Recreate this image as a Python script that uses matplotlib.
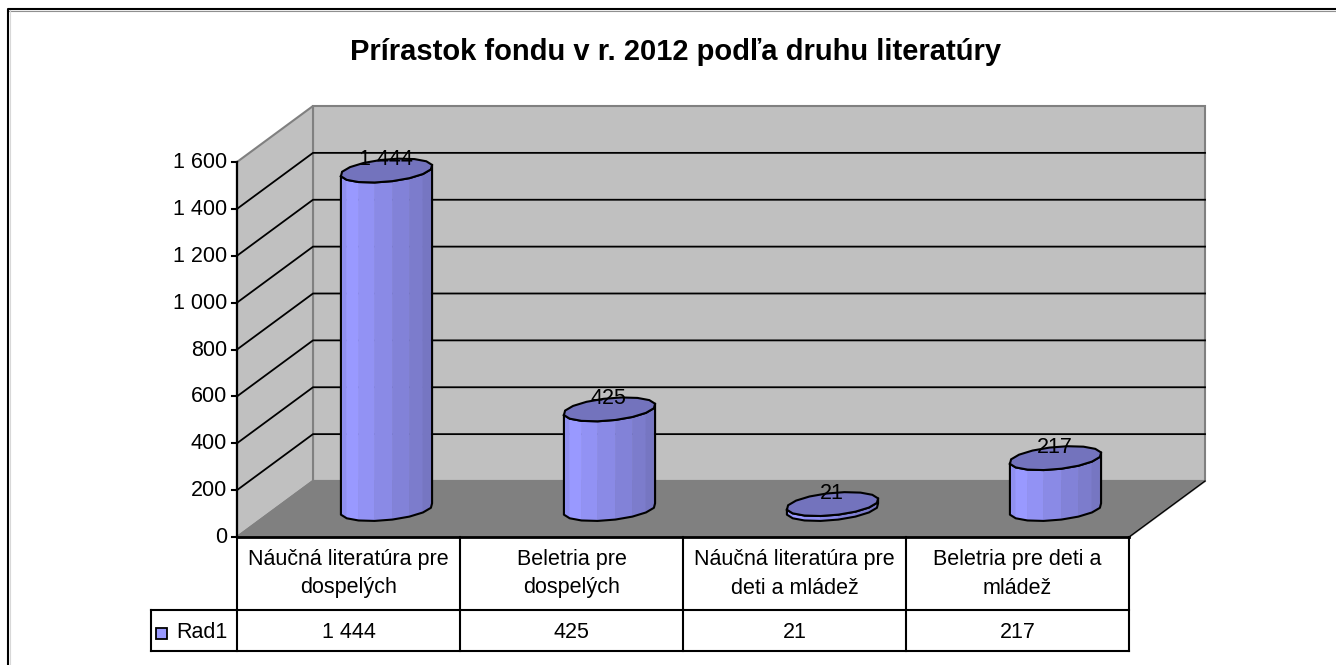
import matplotlib
matplotlib.use('Agg')
import matplotlib.pyplot as plt
import numpy as np

title = 'Prírastok fondu v r. 2012 podľa druhu literatúry'
categories = ['Náučná literatúra pre\ndospelých', 'Beletria pre\ndospelých',
              'Náučná literatúra pre\ndeti a mládež', 'Beletria pre deti a\nmládež']
values = [1444, 425, 21, 217]
value_labels = ['1 444', '425', '21', '217']
y_ticks = [0, 200, 400, 600, 800, 1000, 1200, 1400, 1600]
y_tick_labels = ['0', '200', '400', '600', '800', '1 000', '1 200', '1 400', '1 600']
series_name = 'Rad1'

# layout of the 3d box, in pixels
X0, Y0 = 237, 537
CAT_W = 223
DX, DY = 76, -56
PX_PER_VAL = 375 / 1600
FS = 15.5

plt.rcParams['font.family'] = ['Liberation Sans', 'DejaVu Sans']
fig = plt.figure(figsize=(13.36, 6.65), dpi=100)
ax = fig.add_axes([0, 0, 1, 1])
ax.set_xlim(0, 1336)
ax.set_ylim(665, 0)
ax.axis('off')


def project(u, d, v):
    # u = category position, d = depth 0..1, v = value
    return X0 + CAT_W * np.asarray(u) + DX * np.asarray(d), Y0 + DY * np.asarray(d) - PX_PER_VAL * np.asarray(v)


def poly(pts, **kw):
    xs, ys = zip(*[project(*p) for p in pts])
    ax.fill(xs, ys, **kw)


n = len(categories)
top = y_ticks[-1]
gray = '#c0c0c0'
edge = '#808080'

# outer frame, only top and left are inside the picture
ax.plot([8, 1336], [10.6, 10.6], color='#909090', lw=0.8)
ax.plot([9.5, 9.5], [10, 665], color='#d8d8d8', lw=0.8)
ax.plot([8, 8, 1336], [665, 9, 9], color='k', lw=1.5)

# walls and floor
poly([(0, 1, 0), (n, 1, 0), (n, 1, top), (0, 1, top)], fc=gray, ec=edge, lw=1.5, zorder=1)
poly([(0, 0, 0), (0, 1, 0), (0, 1, top), (0, 0, top)], fc=gray, ec=edge, lw=1.5, zorder=1)
poly([(0, 0, 0), (n, 0, 0), (n, 1, 0), (0, 1, 0)], fc='#808080', ec=edge, lw=1.5, zorder=1)
xs, ys = project([n, n], [0, 1], [0, 0])
ax.plot(xs, ys, color='k', lw=0.9, zorder=2)

# gridlines
for t in y_ticks[1:-1]:
    xs, ys = project([0, 0, n], [0, 1, 1], [t, t, t])
    ax.plot(xs, ys, color='k', lw=1.3, zorder=2)

# value axis
xs, ys = project([0, 0], [0, 0], [0, top])
ax.plot(xs, ys, color='k', lw=1.6, zorder=5)
for t, lab in zip(y_ticks, y_tick_labels):
    x, y = project(0, 0, t)
    ax.plot([x - 5, x], [y, y], color='k', lw=1.5, zorder=5)
    ax.text(x - 10, y + 0.5, lab, ha='right', va='center', fontsize=FS, color='k')

# cylinders
RX, RD = 43, 0.214
SIDES = 16
ts = np.linspace(0, 2 * np.pi, SIDES + 1) + 0.1
side_cols = ['#9090f0', '#9999ff', '#9292f4', '#8a8ae6', '#8282d8', '#7c7ccc', '#7676c2', '#7070b6', '#6c6cae']


def ring(u, v):
    cx, cy = project(u, 0.5, v)
    return (cx + RX * np.cos(ts) + RD * DX * np.sin(ts),
            cy + RD * DY * np.sin(ts))


for i, val in enumerate(values):
    u = i + 0.5
    bx, by = ring(u, 0)
    tx, ty = ring(u, val)
    # front half of the side, split in strips
    left = np.argmin(tx[:-1])
    right = np.argmax(tx[:-1])
    idx = [(left + k) % SIDES for k in range(SIDES)]
    idx = idx[:((right - left) % SIDES) + 1]
    if ty[idx[len(idx) // 2]] < ty[left]:
        idx = [(left - k) % SIDES for k in range(SIDES)]
        idx = idx[:((left - right) % SIDES) + 1]
    m = len(idx) - 1
    for k in range(m):
        a, b = idx[k], idx[k + 1]
        c = side_cols[int(k * len(side_cols) / m)]
        ax.fill([bx[a], bx[b], tx[b], tx[a]], [by[a], by[b], ty[b], ty[a]],
                fc=c, ec=c, lw=0.4, zorder=6)
    outline_x = list(tx[idx]) + list(bx[idx])[::-1] + [tx[idx[0]]]
    outline_y = list(ty[idx]) + list(by[idx])[::-1] + [ty[idx[0]]]
    ax.plot(outline_x, outline_y, color='k', lw=1.5, zorder=7, solid_joinstyle='round')
    ax.fill(tx, ty, fc='#7373bd', ec='k', lw=1.5, zorder=8)
    lx, ly = project(u, 0.5, val)
    ax.text(lx - 1, ly - 11, value_labels[i], ha='center', va='center', fontsize=FS, color='k', zorder=9)

# data table
row1 = 610
row2 = 650.5
tx0 = 151
x_right = X0 + CAT_W * n
ax.plot([X0, x_right], [Y0, Y0], color='k', lw=2, zorder=5)
ax.plot([tx0, x_right], [row1, row1], color='k', lw=1.5)
ax.plot([tx0, x_right], [row2, row2], color='k', lw=1.5)
ax.plot([tx0, tx0], [row1, row2], color='k', lw=1.5)
for i in range(n + 1):
    ax.plot([X0 + CAT_W * i] * 2, [Y0, row2], color='k', lw=1.5)
for i in range(n):
    cx = X0 + CAT_W * (i + 0.5)
    ax.text(cx, (Y0 + row1) / 2, categories[i], ha='center', va='center', fontsize=FS,
            linespacing=1.5, color='k')
    ax.text(cx, (row1 + row2) / 2 + 2, value_labels[i], ha='center', va='center', fontsize=FS, color='k')

ax.fill([156, 167, 167, 156], [628, 628, 639, 639], fc='#9999ff', ec='k', lw=1.3)
ax.text(176, (row1 + row2) / 2 + 2, series_name, ha='left', va='center', fontsize=FS, color='k')

ax.text(676, 52, title, ha='center', va='center', fontsize=21, fontweight='bold', color='k')

fig.savefig('out.png', dpi=100)
